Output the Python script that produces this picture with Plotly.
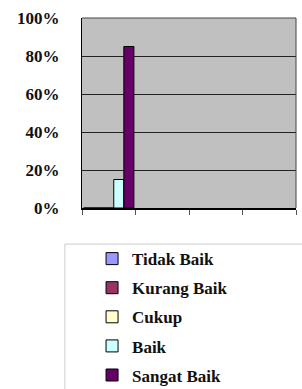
import plotly.graph_objects as go

categories = ["1", "2", "3", "4"]
series_names = ["Tidak Baik", "Kurang Baik", "Cukup", "Baik", "Sangat Baik"]
series_values = [
    [0, None, None, None],
    [0, None, None, None],
    [0, None, None, None],
    [15, None, None, None],
    [85, None, None, None],
]
series_colors = ["#9999ff", "#993366", "#ffffcc", "#ccffff", "#660066"]
y_tickvals = [0, 20, 40, 60, 80, 100]
y_ticktext = ["0%", "20%", "40%", "60%", "80%", "100%"]

FONT = "Times New Roman, Liberation Serif, serif"

fig = go.Figure()
for name, vals, col in zip(series_names, series_values, series_colors):
    fig.add_trace(go.Bar(
        x=categories, y=vals, name=name, legendgroup=name,
        marker=dict(color=col, line=dict(color="#000000", width=1)),
    ))

fig.update_layout(
    width=302, height=389,
    margin=dict(l=82, r=6, t=18, b=181, autoexpand=False),
    paper_bgcolor="white",
    plot_bgcolor="#c0c0c0",
    barmode="group",
    bargap=0.06,
    bargroupgap=0,
    font=dict(family=FONT, size=17, color="#111111", weight="bold"),
    showlegend=True,
    legend=dict(
        x=0.047, y=-0.174, xanchor="left", yanchor="top",
        bgcolor="rgba(0,0,0,0)",
        font=dict(family=FONT, size=17, color="#111111", weight="bold"),
        tracegroupgap=4,
        itemwidth=30,
    ),
    xaxis=dict(
        type="category",
        showticklabels=False,
        ticks="outside", ticklen=5, tickcolor="#555555",
        tickson="boundaries",
        showline=True, linecolor="#000000", linewidth=2,
        showgrid=False,
        mirror=False,
    ),
    yaxis=dict(
        range=[0, 100],
        tickvals=y_tickvals, ticktext=y_ticktext,
        showgrid=True, gridcolor="#222222", gridwidth=1,
        showline=True, linecolor="#000000", linewidth=1,
        ticks="", ticklabelstandoff=18,
        tickfont=dict(family=FONT, size=17, color="#111111", weight="bold"),
        zeroline=False,
    ),
    shapes=[
        dict(type="line", xref="paper", yref="paper",
             x0=1.0, x1=1.0, y0=0, y1=1,
             line=dict(color="#444444", width=1)),
        dict(type="line", xref="paper", yref="paper",
             x0=0, x1=1.0, y0=1, y1=1,
             line=dict(color="#444444", width=1)),
        dict(type="rect", xref="paper", yref="paper",
             x0=-0.08, x1=1.05, y0=-0.19, y1=-1.0,
             line=dict(color="#cccccc", width=1)),
    ],
)

fig.write_html("out.html", config={"displayModeBar": False},
               post_script="document.body.style.margin='0';")
